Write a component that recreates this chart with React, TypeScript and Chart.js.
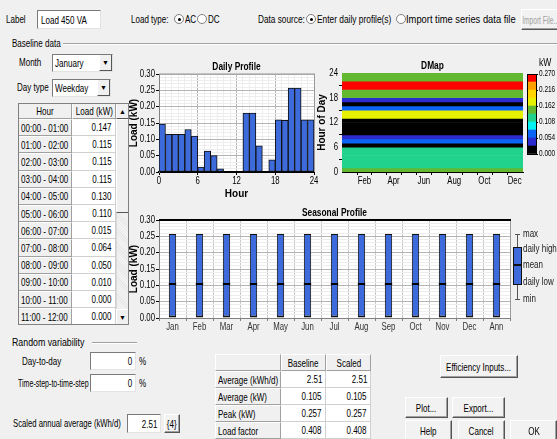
import React, { useEffect, useRef } from 'react';
import { Chart, registerables } from 'chart.js';

Chart.register(...registerables);

const FONT = "'Liberation Sans',Arial,sans-serif";
const SQ = 0.73;
Chart.defaults.font.family = FONT;
Chart.defaults.color = '#000';

// ---------------- data ----------------
const hourlyLoad = [
  0.147, 0.115, 0.115, 0.115, 0.130, 0.110, 0.015, 0.064, 0.050, 0.010, 0.000, 0.000,
  0.000, 0.180, 0.180, 0.080, 0.000, 0.037, 0.160, 0.158, 0.257, 0.257, 0.160, 0.160,
];
const tableHourLabels = [
  '00:00 - 01:00', '01:00 - 02:00', '02:00 - 03:00', '03:00 - 04:00',
  '04:00 - 05:00', '05:00 - 06:00', '06:00 - 07:00', '07:00 - 08:00',
  '08:00 - 09:00', '09:00 - 10:00', '10:00 - 11:00', '11:00 - 12:00',
];
const tableLoadLabels = ['0.147', '0.115', '0.115', '0.115', '0.130', '0.110', '0.015', '0.064', '0.050', '0.010', '0.000', '0.000'];

const dmapMonthStarts = [31, 59, 90, 120, 151, 181, 212, 243, 273, 304, 334];
const dmapMonthLabels = ['Feb', '', 'Apr', '', 'Jun', '', 'Aug', '', 'Oct', '', 'Dec'];
const dmapPatchHour = 8;
const dmapPatchStart = 181;
const dmapPatchEnd = 212;
const dmapPatchValue = 0.056;

const colorLevels = [0, 0.027, 0.054, 0.081, 0.108, 0.135, 0.162, 0.189, 0.216, 0.243, 0.27];
const colorbarColors = ['#000000', '#2b2bd0', '#0a64f5', '#00f2f2', '#20d28c', '#62b82e', '#e6f000', '#ffd400', '#ffa000', '#ff0000'];

const seasonMonths = ['Jan', 'Feb', 'Mar', 'Apr', 'May', 'Jun', 'Jul', 'Aug', 'Sep', 'Oct', 'Nov', 'Dec', 'Ann'];
const seasonalMax = [0.257, 0.257, 0.257, 0.257, 0.257, 0.257, 0.257, 0.257, 0.257, 0.257, 0.257, 0.257, 0.257];
const seasonalMean = [0.105, 0.105, 0.105, 0.105, 0.105, 0.105, 0.105, 0.105, 0.105, 0.105, 0.105, 0.105, 0.105];
const seasonalMin = [0, 0, 0, 0, 0, 0, 0, 0, 0, 0, 0, 0, 0];
const seasonLegendLabels = ['max', 'daily high', 'mean', 'daily low', 'min'];

const statRows = ['Average (kWh/d)', 'Average (kW)', 'Peak (kW)', 'Load factor'];
const baselineStats = ['2.51', '0.105', '0.257', '0.408'];
const scaledStats = ['2.51', '0.105', '0.257', '0.408'];

const BLUE = '#3d6bdc';

function colorFor(v: number) {
  for (let i = 0; i < colorbarColors.length; i++) {
    if (v < colorLevels[i + 1] - 1e-9) return colorbarColors[i];
  }
  return colorbarColors[colorbarColors.length - 1];
}

// ---------------- canvas helpers ----------------
function sqText(ctx: any, text: string, x: number, y: number, align: string, sq = 0.78) {
  ctx.save();
  ctx.translate(x, y);
  ctx.scale(sq, 1);
  ctx.textAlign = align;
  ctx.fillText(text, 0, 0);
  ctx.restore();
}

type AxisLabel = { id: string; fmt: (v: number, i: number) => string; offset?: number; size?: number; color?: string; gap?: number; sq?: number };

function sqTicksPlugin(axes: AxisLabel[]) {
  return {
    id: 'sqTicks',
    afterDraw(chart: any) {
      const ctx = chart.ctx;
      axes.forEach((ax) => {
        const s = chart.scales[ax.id];
        const gap = ax.gap ?? 4;
        ctx.save();
        ctx.fillStyle = ax.color || '#000';
        ctx.font = `${ax.size || 10}px ${FONT}`;
        s.ticks.forEach((t: any, i: number) => {
          const label = ax.fmt(t.value, i);
          if (!label) return;
          if (s.isHorizontal()) {
            ctx.textBaseline = 'top';
            sqText(ctx, label, s.getPixelForTick(i) + (ax.offset || 0), s.top + gap, 'center', ax.sq);
          } else if (s.position === 'right') {
            ctx.textBaseline = 'middle';
            sqText(ctx, label, s.left + gap, s.getPixelForTick(i), 'left', ax.sq);
          } else {
            ctx.textBaseline = 'middle';
            sqText(ctx, label, s.right - gap, s.getPixelForTick(i), 'right', ax.sq);
          }
        });
        ctx.restore();
      });
    },
  };
}

function framePlugin(title: string, topColor: string, topWidth: number) {
  return {
    id: 'frame',
    beforeDraw(chart: any) {
      const { ctx, chartArea: a } = chart;
      ctx.save();
      ctx.fillStyle = '#ffffff';
      ctx.fillRect(a.left, a.top, a.right - a.left, a.bottom - a.top);
      ctx.restore();
    },
    afterDraw(chart: any) {
      const { ctx, chartArea: a } = chart;
      ctx.save();
      ctx.strokeStyle = '#9a9a9a';
      ctx.lineWidth = 1;
      ctx.beginPath();
      ctx.moveTo(a.right + 0.5, a.top);
      ctx.lineTo(a.right + 0.5, a.bottom);
      ctx.stroke();
      ctx.strokeStyle = topColor;
      ctx.lineWidth = topWidth;
      ctx.beginPath();
      ctx.moveTo(a.left, a.top);
      ctx.lineTo(a.right + 1, a.top);
      ctx.stroke();
      ctx.fillStyle = '#000';
      ctx.font = `bold 11px ${FONT}`;
      ctx.textBaseline = 'bottom';
      sqText(ctx, title, (a.left + a.right) / 2, a.top - 2, 'center', 0.76);
      ctx.restore();
    },
  };
}

function isMajor(v: number, step: number) {
  const r = v / step;
  return Math.abs(r - Math.round(r)) < 1e-6;
}

// ---------------- chart host ----------------
function ChartBox({ left, top, width, height, config }: any) {
  const ref = useRef<HTMLCanvasElement | null>(null);
  useEffect(() => {
    const chart = new Chart(ref.current as HTMLCanvasElement, config());
    return () => chart.destroy();
  }, []);
  return (
    <div style={{ position: 'absolute', left, top, width, height }}>
      <canvas ref={ref} width={width} height={height} style={{ width, height, display: 'block' }} />
    </div>
  );
}

const baseOpts = {
  animation: false,
  responsive: false,
  events: [],
  plugins: { legend: { display: false }, tooltip: { enabled: false }, title: { display: false } },
};

const axisTitleFont = { size: 10, weight: 'bold' };
const fmtLoad = (v: number) => (isMajor(v, 0.05) ? Number(v).toFixed(2) : '');

function dailyConfig() {
  return {
    type: 'bar',
    data: {
      datasets: [{
        data: hourlyLoad.map((v, i) => ({ x: i + 0.5, y: v })),
        backgroundColor: BLUE,
        borderColor: '#111',
        borderWidth: 1,
        borderSkipped: false,
        barPercentage: 1,
        categoryPercentage: 1,
      }],
    },
    options: {
      ...baseOpts,
      layout: { padding: { top: 18, right: 8, left: 0, bottom: 0 } },
      scales: {
        x: {
          type: 'linear', min: 0, max: 24, offset: false,
          afterFit: (s: any) => { s.height = 28; },
          ticks: { stepSize: 1, autoSkip: false, display: false },
          grid: { offset: false, tickLength: 3,
            color: (c: any) => (isMajor(c.tick.value, 6) ? '#b4b4b4' : '#ededed'),
            tickColor: (c: any) => (isMajor(c.tick.value, 6) ? '#000' : 'rgba(0,0,0,0)') },
          border: { color: '#000', width: 2 },
          title: { display: true, text: 'Hour', font: axisTitleFont, padding: 0 },
        },
        y: {
          min: 0, max: 0.3,
          afterFit: (s: any) => { s.width = 31; },
          ticks: { stepSize: 0.01, autoSkip: false, display: false },
          grid: { tickLength: 3,
            color: (c: any) => (isMajor(c.tick.value, 0.05) ? '#b4b4b4' : '#ededed'),
            tickColor: (c: any) => (isMajor(c.tick.value, 0.05) ? '#000' : 'rgba(0,0,0,0)') },
          border: { color: '#808080' },
          title: { display: true, text: 'Load (kW)', font: axisTitleFont, padding: 0 },
        },
      },
    },
    plugins: [
      framePlugin('Daily Profile', '#9a9a9a', 1),
      sqTicksPlugin([
        { id: 'x', fmt: (v) => (isMajor(v, 6) ? String(v) : '') },
        { id: 'y', fmt: fmtLoad },
      ]),
    ],
  };
}

function dmapConfig() {
  return {
    type: 'bar',
    data: {
      datasets: [
        {
          data: hourlyLoad.map((_, h) => ({ y: h + 0.5, x: [0, 365] })),
          backgroundColor: hourlyLoad.map(colorFor),
          borderWidth: 0,
          barPercentage: 1,
          categoryPercentage: 1,
          grouped: false,
        },
        {
          data: [{ y: dmapPatchHour + 0.5, x: [dmapPatchStart, dmapPatchEnd] }],
          backgroundColor: colorFor(dmapPatchValue),
          borderWidth: 0,
          barPercentage: 1,
          categoryPercentage: 1,
          grouped: false,
        },
      ],
    },
    options: {
      ...baseOpts,
      indexAxis: 'y',
      layout: { padding: { top: 17, right: 2, left: 0, bottom: 0 } },
      scales: {
        y: {
          type: 'linear', min: 0, max: 24, offset: false,
          afterFit: (s: any) => { s.width = 26; },
          ticks: { stepSize: 6, display: false },
          grid: { drawOnChartArea: false, tickLength: 3, tickColor: '#000' },
          border: { color: '#000' },
          title: { display: true, text: 'Hour of Day', font: axisTitleFont, padding: 0 },
        },
        x: {
          type: 'linear', min: 0, max: 365, offset: false,
          afterFit: (s: any) => { s.height = 28; },
          afterBuildTicks: (s: any) => { s.ticks = dmapMonthStarts.map((v) => ({ value: v })); },
          ticks: { autoSkip: false, display: false },
          grid: { drawOnChartArea: false, tickLength: 3, tickColor: '#000' },
          border: { color: '#000' },
        },
      },
    },
    plugins: [
      {
        id: 'dmapTitle',
        afterDraw(chart: any) {
          const { ctx, chartArea: a } = chart;
          ctx.save();
          ctx.fillStyle = '#000';
          ctx.font = `bold 11px ${FONT}`;
          ctx.textBaseline = 'bottom';
          sqText(ctx, 'DMap', (a.left + a.right) / 2, a.top - 2, 'center', 0.76);
          ctx.restore();
        },
      },
      sqTicksPlugin([
        { id: 'x', fmt: (_v, i) => dmapMonthLabels[i], offset: 7 },
        { id: 'y', fmt: (v) => String(v) },
      ]),
    ],
  };
}

function colorbarConfig() {
  return {
    type: 'bar',
    data: {
      labels: ['kW'],
      datasets: colorbarColors.map((c, i) => ({
        data: [[colorLevels[i], colorLevels[i + 1]]],
        backgroundColor: c,
        borderWidth: 0,
        barPercentage: 1,
        categoryPercentage: 1,
        grouped: false,
      })),
    },
    options: {
      ...baseOpts,
      layout: { padding: { top: 18, left: 3, bottom: 12, right: 0 } },
      scales: {
        x: { display: false },
        y: {
          position: 'right', min: 0, max: 0.27,
          afterFit: (s: any) => { s.width = 21; },
          afterBuildTicks: (s: any) => { s.ticks = colorLevels.filter((_, i) => i % 2 === 0).map((v) => ({ value: v })); },
          ticks: { display: false },
          grid: { drawOnChartArea: false, tickLength: 2, tickColor: '#000' },
          border: { color: '#000' },
        },
      },
    },
    plugins: [
      {
        id: 'cbFrame',
        afterDraw(chart: any) {
          const { ctx, chartArea: a } = chart;
          ctx.save();
          ctx.strokeStyle = '#000';
          ctx.lineWidth = 1;
          ctx.strokeRect(a.left + 0.5, a.top + 0.5, a.right - a.left, a.bottom - a.top);
          ctx.fillStyle = '#000';
          ctx.font = `11px ${FONT}`;
          ctx.textBaseline = 'middle';
          sqText(ctx, 'kW', a.right + 3, a.top - 11, 'left');
          ctx.restore();
        },
      },
      sqTicksPlugin([{ id: 'y', fmt: (v) => Number(v).toFixed(3), gap: 3, size: 9, sq: 0.72 }]),
    ],
  };
}

function seasonalConfig() {
  return {
    type: 'bar',
    data: {
      labels: seasonMonths,
      datasets: [{
        data: seasonMonths.map((_, i) => [seasonalMin[i], seasonalMax[i]]),
        backgroundColor: BLUE,
        borderColor: '#111',
        borderWidth: { top: 1, left: 1, right: 1, bottom: 2 },
        borderSkipped: false,
        barPercentage: 0.27,
        categoryPercentage: 1,
      }],
    },
    options: {
      ...baseOpts,
      layout: { padding: { top: 15, right: 47, left: 0, bottom: 0 } },
      scales: {
        x: {
          afterFit: (s: any) => { s.height = 17; },
          ticks: { display: false },
          grid: { offset: true, color: '#c8c8c8', tickLength: 3, tickColor: '#808080' },
          border: { color: '#808080' },
        },
        y: {
          min: 0, max: 0.3,
          afterFit: (s: any) => { s.width = 31; },
          ticks: { stepSize: 0.01, autoSkip: false, display: false },
          grid: { tickLength: 3,
            color: (c: any) => (isMajor(c.tick.value, 0.05) ? '#b4b4b4' : '#ededed'),
            tickColor: (c: any) => (isMajor(c.tick.value, 0.05) ? '#000' : 'rgba(0,0,0,0)') },
          border: { color: '#808080' },
          title: { display: true, text: 'Load (kW)', font: axisTitleFont, padding: 0 },
        },
      },
    },
    plugins: [
      framePlugin('Seasonal Profile', '#000', 2),
      sqTicksPlugin([
        { id: 'x', fmt: (_v, i) => seasonMonths[i], color: '#333' },
        { id: 'y', fmt: fmtLoad },
      ]),
      {
        id: 'seasonMarks',
        afterDatasetsDraw(chart: any) {
          const { ctx } = chart;
          const meta = chart.getDatasetMeta(0);
          const ys = chart.scales.y;
          ctx.save();
          ctx.strokeStyle = '#000';
          ctx.lineWidth = 2;
          meta.data.forEach((bar: any, i: number) => {
            const y = Math.round(ys.getPixelForValue(seasonalMean[i]));
            ctx.beginPath();
            ctx.moveTo(bar.x - bar.width / 2, y);
            ctx.lineTo(bar.x + bar.width / 2, y);
            ctx.stroke();
          });
          ctx.restore();
        },
        afterDraw(chart: any) {
          const { ctx, chartArea: a } = chart;
          const cx = a.right + 7;
          const yMax = a.top + 14, yHigh = a.top + 27, yMean = a.top + 45, yLow = a.top + 64, yMin = a.top + 79;
          ctx.save();
          ctx.strokeStyle = '#555';
          ctx.lineWidth = 1;
          ctx.beginPath();
          ctx.moveTo(cx + 0.5, yMax); ctx.lineTo(cx + 0.5, yMin);
          ctx.moveTo(cx - 2, yMax + 0.5); ctx.lineTo(cx + 3, yMax + 0.5);
          ctx.moveTo(cx - 2, yMin + 0.5); ctx.lineTo(cx + 3, yMin + 0.5);
          ctx.stroke();
          ctx.fillStyle = BLUE;
          ctx.fillRect(cx - 3.5, yHigh, 8, yLow - yHigh);
          ctx.strokeStyle = '#111';
          ctx.strokeRect(cx - 3.5, yHigh + 0.5, 8, yLow - yHigh);
          ctx.lineWidth = 2;
          ctx.beginPath();
          ctx.moveTo(cx - 3.5, yMean); ctx.lineTo(cx + 4.5, yMean);
          ctx.stroke();
          ctx.fillStyle = '#222';
          ctx.font = `10px ${FONT}`;
          ctx.textBaseline = 'middle';
          const ys = [yMax, yHigh + 2, yMean, yLow - 2, yMin];
          seasonLegendLabels.forEach((t, i) => sqText(ctx, t, cx + 6, ys[i], 'left', 0.8));
          ctx.restore();
        },
      },
    ],
  };
}

// ---------------- UI helpers ----------------
const Sq = ({ children, origin, s }: any) => (
  <span style={{ display: 'inline-block', flex: 'none', transform: `scaleX(${s || SQ})`, transformOrigin: origin || 'left center', whiteSpace: 'nowrap' }}>{children}</span>
);

const T = ({ x, y, children, s }: any) => (
  <div style={{ position: 'absolute', left: x, top: y - 7, lineHeight: '14px', whiteSpace: 'nowrap' }}><Sq s={s}>{children}</Sq></div>
);

const sunken = {
  position: 'absolute' as const,
  background: '#fff',
  borderTop: '1px solid #7a7a7a',
  borderLeft: '1px solid #7a7a7a',
  borderRight: '1px solid #e3e3e3',
  borderBottom: '1px solid #e3e3e3',
  boxSizing: 'border-box' as const,
  whiteSpace: 'nowrap' as const,
  overflow: 'hidden',
  display: 'flex',
  alignItems: 'center',
};

const Input = ({ x, y, w, h, text, align }: any) => (
  <div style={{ ...sunken, left: x, top: y, width: w, height: h, justifyContent: align === 'right' ? 'flex-end' : 'flex-start', padding: '0 3px' }}>
    <Sq origin={align === 'right' ? 'right center' : 'left center'}>{text}</Sq>
  </div>
);

const Btn = ({ x, y, w, h, text, disabled, s }: any) => (
  <div style={{
    position: 'absolute', left: x, top: y, width: w, height: h, boxSizing: 'border-box',
    background: '#f2f2f2', borderTop: '1px solid #fff', borderLeft: '1px solid #fff',
    borderRight: '1px solid #555', borderBottom: '1px solid #555',
    boxShadow: 'inset -1px -1px 0 #a0a0a0',
    display: 'flex', alignItems: 'center', justifyContent: 'center',
    color: disabled ? '#a0a0a0' : '#000', whiteSpace: 'nowrap', overflow: 'hidden',
  }}><Sq origin="center center" s={s}>{text}</Sq></div>
);

const Radio = ({ x, y, on }: any) => (
  <div style={{ position: 'absolute', left: x, top: y - 5, width: 10, height: 10, borderRadius: '50%',
    background: '#fff', border: '1px solid #808080', boxSizing: 'border-box' }}>
    {on ? <div style={{ position: 'absolute', left: 2.5, top: 2.5, width: 3.5, height: 3.5, borderRadius: '50%', background: '#000' }} /> : null}
  </div>
);

const Select = ({ x, y, w, h, text }: any) => (
  <div style={{ ...sunken, left: x, top: y, width: w, height: h, padding: '0 2px' }}>
    <Sq>{text}</Sq>
    <div style={{ position: 'absolute', right: 0, top: 0, width: 13, height: h - 2, background: '#f0f0f0',
      borderLeft: '1px solid #fff', borderRight: '1px solid #555', borderBottom: '1px solid #555', boxSizing: 'border-box',
      display: 'flex', alignItems: 'center', justifyContent: 'center', fontSize: 7 }}>▼</div>
  </div>
);

const Etched = ({ x, y, w }: any) => (
  <div style={{ position: 'absolute', left: x, top: y, width: w, height: 0, borderTop: '1px solid #a0a0a0', borderBottom: '1px solid #fff' }} />
);

const cellBase = {
  position: 'absolute' as const, boxSizing: 'border-box' as const, whiteSpace: 'nowrap' as const,
  overflow: 'hidden', display: 'flex', alignItems: 'center',
};
const cellGray = {
  ...cellBase, background: '#f0f0f0',
  borderRight: '1px solid #a0a0a0', borderBottom: '1px solid #a0a0a0',
  borderTop: '1px solid #fff', borderLeft: '1px solid #fff',
};
const cellWhite = {
  ...cellBase, background: '#fff', justifyContent: 'flex-end',
  borderRight: '1px solid #d0d0d0', borderBottom: '1px solid #d0d0d0',
};

function HourTable() {
  const x0 = 18, y0 = 103, wH = 54, wL = 44, hHead = 16, rh = 17.2;
  const sbx = x0 + wH + wL;
  return (
    <div>
      <div style={{ ...cellGray, left: x0, top: y0, width: wH, height: hHead, justifyContent: 'center' }}><Sq origin="center center">Hour</Sq></div>
      <div style={{ ...cellGray, left: x0 + wH, top: y0, width: wL, height: hHead, justifyContent: 'center' }}><Sq origin="center center">Load (kW)</Sq></div>
      {tableHourLabels.map((t, i) => (
        <React.Fragment key={t}>
          <div style={{ ...cellGray, left: x0, top: y0 + hHead + i * rh, width: wH, height: rh, paddingLeft: 2 }}><Sq>{t}</Sq></div>
          <div style={{ ...cellWhite, left: x0 + wH, top: y0 + hHead + i * rh, width: wL, height: rh, paddingRight: 3 }}><Sq origin="right center">{tableLoadLabels[i]}</Sq></div>
        </React.Fragment>
      ))}
      <div style={{ position: 'absolute', left: sbx, top: y0, width: 13, height: hHead + 12 * rh,
        background: 'repeating-linear-gradient(45deg,#f4f4f4 0 1px,#e8e8e8 1px 2px)', boxSizing: 'border-box', borderLeft: '1px solid #d8d8d8' }} />
      <div style={{ ...cellGray, left: sbx, top: y0, width: 13, height: 16, fontSize: 7, justifyContent: 'center', borderRight: '1px solid #555', borderBottom: '1px solid #555' }}>▲</div>
      <div style={{ ...cellGray, left: sbx, top: y0 + 16, width: 13, height: 94, borderRight: '1px solid #555', borderBottom: '1px solid #555' }} />
      <div style={{ ...cellGray, left: sbx, top: y0 + hHead + 12 * rh - 16, width: 13, height: 16, fontSize: 7, justifyContent: 'center', borderRight: '1px solid #555', borderBottom: '1px solid #555' }}>▼</div>
      <div style={{ position: 'absolute', left: x0, top: y0, width: wH + wL + 13, height: hHead + 12 * rh, border: '1px solid #808080', boxSizing: 'border-box', pointerEvents: 'none' }} />
    </div>
  );
}

function StatsTable() {
  const x0 = 215, y0 = 354, rh = 17, w = [66, 45, 45];
  const xs = [x0, x0 + w[0], x0 + w[0] + w[1]];
  return (
    <div>
      <div style={{ ...cellGray, left: xs[0], top: y0, width: w[0], height: rh }} />
      <div style={{ ...cellGray, left: xs[1], top: y0, width: w[1], height: rh, justifyContent: 'center' }}><Sq origin="center center">Baseline</Sq></div>
      <div style={{ ...cellGray, left: xs[2], top: y0, width: w[2], height: rh, justifyContent: 'center' }}><Sq origin="center center">Scaled</Sq></div>
      {statRows.map((t, i) => (
        <React.Fragment key={t}>
          <div style={{ ...cellGray, left: xs[0], top: y0 + rh * (i + 1), width: w[0], height: rh, paddingLeft: 2 }}><Sq>{t}</Sq></div>
          <div style={{ ...cellWhite, left: xs[1], top: y0 + rh * (i + 1), width: w[1], height: rh, paddingRight: 3 }}><Sq origin="right center">{baselineStats[i]}</Sq></div>
          <div style={{ ...cellWhite, left: xs[2], top: y0 + rh * (i + 1), width: w[2], height: rh, paddingRight: 3 }}><Sq origin="right center">{scaledStats[i]}</Sq></div>
        </React.Fragment>
      ))}
    </div>
  );
}

export default function App() {
  return (
    <div style={{ position: 'relative', width: 557, height: 439, overflow: 'hidden', background: '#f0f0f0',
      fontFamily: FONT, fontSize: 11, color: '#000' }}>
      <style>{`body{margin:0;background:#f0f0f0}`}</style>

      {/* top row */}
      <T x={6} y={19}>Label</T>
      <Input x={37} y={10} w={64} h={19} text="Load 450 VA" />
      <T x={131} y={19}>Load type:</T>
      <Radio x={174} y={19} on />
      <T x={185} y={19}>AC</T>
      <Radio x={197} y={19} />
      <T x={208} y={19}>DC</T>
      <T x={258} y={19} s={0.75}>Data source:</T>
      <Radio x={306} y={19} on />
      <T x={317} y={19} s={0.76}>Enter daily profile(s)</T>
      <Radio x={396} y={19} />
      <T x={406} y={19} s={0.85}>Import time series data file</T>
      <Btn x={521} y={9} w={40} h={21} text="Import File..." disabled s={0.6} />

      <T x={12} y={43}>Baseline data</T>
      <Etched x={63} y={43} w={494} />

      <T x={19} y={62}>Month</T>
      <Select x={52} y={54} w={61} h={18} text="January" />
      <T x={17} y={87}>Day type</T>
      <Select x={52} y={79} w={59} h={18} text="Weekday" />

      <HourTable />

      <ChartBox left={128} top={56} width={194} height={144} config={dailyConfig} />
      <ChartBox left={316} top={56} width={209} height={144} config={dmapConfig} />
      <ChartBox left={524} top={56} width={33} height={110} config={colorbarConfig} />
      <ChartBox left={128} top={205} width={429} height={130} config={seasonalConfig} />

      {/* bottom */}
      <T x={12} y={342} s={0.8}>Random variability</T>
      <Etched x={92} y={342} w={45} />
      <T x={22} y={361}>Day-to-day</T>
      <Input x={90} y={352} w={46} h={18} text="0" align="right" />
      <T x={139} y={361}>%</T>
      <T x={18} y={383} s={0.64}>Time-step-to-time-step</T>
      <Input x={90} y={374} w={46} h={18} text="0" align="right" />
      <T x={139} y={383}>%</T>
      <T x={13} y={423} s={0.7}>Scaled annual average (kWh/d)</T>
      <Input x={127} y={414} w={34} h={19} text="2.51" align="right" />
      <Btn x={164} y={414} w={16} h={19} text="{4}" />

      <StatsTable />

      <Btn x={440} y={355} w={78} h={23} text="Efficiency Inputs..." />
      <Btn x={405} y={397} w={43} h={21} text="Plot..." />
      <Btn x={452} y={397} w={53} h={21} text="Export..." />
      <Btn x={405} y={420} w={47} h={21} text="Help" />
      <Btn x={458} y={420} w={47} h={21} text="Cancel" />
      <Btn x={510} y={420} w={47} h={21} text="OK" />
    </div>
  );
}
